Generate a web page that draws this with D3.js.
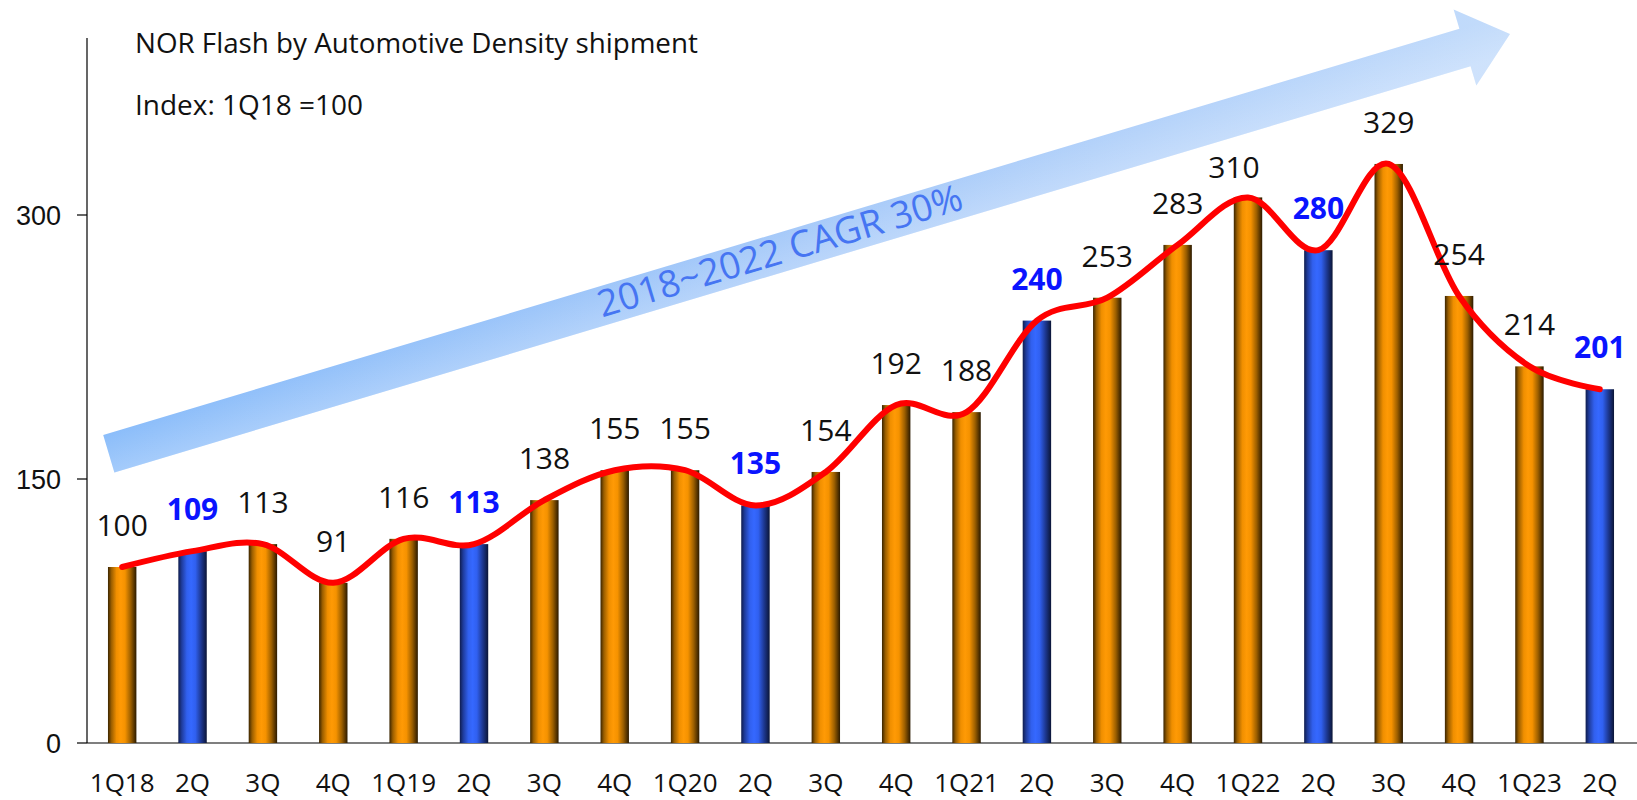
<!DOCTYPE html>
<html>
<head>
<meta charset="utf-8">
<script src="https://cdn.jsdelivr.net/npm/d3@7"></script>
<style>
  html, body { margin: 0; padding: 0; background: #fff; }
  svg { display: block; }
</style>
</head>
<body>
<svg id="chart" width="1637" height="800"></svg>
<script>
// ---- data ----
const categories = ["1Q18","2Q","3Q","4Q","1Q19","2Q","3Q","4Q","1Q20","2Q","3Q","4Q",
                    "1Q21","2Q","3Q","4Q","1Q22","2Q","3Q","4Q","1Q23","2Q"];
const values = [100,109,113,91,116,113,138,155,155,135,154,192,188,240,253,283,310,280,329,254,214,201];
const highlightCategory = "2Q";
const yTicks = [0,150,300];
const titleText = "NOR Flash by Automotive Density shipment";
const subtitleText = "Index: 1Q18 =100";
const arrowText = "2018~2022 CAGR 30%";

// ---- layout ----
const W = 1637, H = 800;
const plotLeft = 87, plotRight = 1635, baseY = 743, topY = 39;
const svg = d3.select("#chart");
const defs = svg.append("defs");

const x = d3.scaleBand().domain(d3.range(categories.length)).range([plotLeft, plotRight]).padding(0);
const y = d3.scaleLinear().domain([0, 400]).range([baseY, topY]);
const barW = x.bandwidth() * 0.404;
const cx = i => x(i) + x.bandwidth() / 2;
const isHi = i => categories[i] === highlightCategory;

// gradients for bars
function barGradient(id, stops) {
  const g = defs.append("linearGradient").attr("id", id)
    .attr("x1", 0).attr("y1", 0).attr("x2", 1).attr("y2", 0);
  stops.forEach(s => g.append("stop").attr("offset", s[0]).attr("stop-color", s[1]));
}
barGradient("gOrange", [[0,"#3a2400"],[0.12,"#9a5e00"],[0.3,"#f08f00"],[0.45,"#ff9a05"],[0.6,"#f59200"],[0.8,"#9c5f00"],[1,"#2b1a00"]]);
barGradient("gBlue", [[0,"#0f1c4d"],[0.12,"#1f3c9c"],[0.3,"#3160ee"],[0.45,"#3568ff"],[0.6,"#3060f0"],[0.8,"#1d3892"],[1,"#0b1536"]]);

// ---- arrow (annotation) ----
const tail = [108.8, 453.7], tip = [1510, 34];
const ang = Math.atan2(tip[1] - tail[1], tip[0] - tail[0]) * 180 / Math.PI;
const L = Math.hypot(tip[0] - tail[0], tip[1] - tail[1]);
const Lj = L - 47, hw = 19.5, hh = 39.6;
const ag = defs.append("linearGradient").attr("id", "gArrow")
  .attr("x1", 0).attr("y1", 0).attr("x2", 1).attr("y2", 0);
ag.append("stop").attr("offset", 0).attr("stop-color", "#8bbdfa");
ag.append("stop").attr("offset", 0.5).attr("stop-color", "#a7caf9");
ag.append("stop").attr("offset", 1).attr("stop-color", "#c2dbfb");
const ag2 = defs.append("linearGradient").attr("id", "gArrowV")
  .attr("x1", 0).attr("y1", 0).attr("x2", 0).attr("y2", 1);
ag2.append("stop").attr("offset", 0.25).attr("stop-color", "#ffffff").attr("stop-opacity", 0);
ag2.append("stop").attr("offset", 0.75).attr("stop-color", "#ffffff").attr("stop-opacity", 0.22);
const arrowG = svg.append("g").attr("transform", `translate(${tail[0]},${tail[1]}) rotate(${ang})`);
const arrowPts = [[0,-hw],[Lj,-hw],[Lj,-hh],[L,0],[Lj,hh],[Lj,hw],[0,hw]];
arrowG.append("polygon").attr("points", arrowPts.map(p => p.join(",")).join(" ")).attr("fill", "url(#gArrow)");
arrowG.append("polygon").attr("points", arrowPts.map(p => p.join(",")).join(" ")).attr("fill", "url(#gArrowV)");
arrowG.append("text").attr("x", 701).attr("y", 11)
  .attr("text-anchor", "middle")
  .style("font-family", "'Open Sans', sans-serif").style("font-size", "37px")
  .attr("fill", "#4675f2").text(arrowText);

// ---- axes ----
const axisG = svg.append("g").attr("stroke", "#000").attr("stroke-width", 1.2);
axisG.append("line").attr("x1", plotLeft).attr("x2", plotLeft).attr("y1", y(400) - 1).attr("y2", baseY);
axisG.append("line").attr("x1", plotLeft).attr("x2", W).attr("y1", baseY).attr("y2", baseY);
axisG.selectAll(".tk").data(yTicks).enter().append("line")
  .attr("x1", plotLeft - 10).attr("x2", plotLeft).attr("y1", d => y(d)).attr("y2", d => y(d));
svg.selectAll(".ytl").data(yTicks).enter().append("text")
  .attr("x", 61).attr("y", d => y(d) + 10).attr("text-anchor", "end")
  .style("font-family", "'Liberation Sans', Arial, sans-serif").style("font-size", "27px")
  .attr("fill", "#111").text(d => d);

// ---- bars ----
svg.selectAll(".bar").data(values).enter().append("rect")
  .attr("x", (d, i) => cx(i) - barW / 2).attr("width", barW)
  .attr("y", d => y(d)).attr("height", d => baseY - y(d))
  .attr("fill", (d, i) => isHi(i) ? "url(#gBlue)" : "url(#gOrange)");

// ---- smoothed line ----
const line = d3.line().x((d, i) => cx(i)).y(d => y(d)).curve(d3.curveCardinal.tension(0));
svg.append("path").datum(values).attr("d", line)
  .attr("fill", "none").attr("stroke", "#ff0000").attr("stroke-width", 6)
  .attr("stroke-linecap", "round").attr("stroke-linejoin", "round");

// ---- value labels ----
const labelNudge = {16: [-14, 12]};
svg.selectAll(".vl").data(values).enter().append("text")
  .attr("x", (d, i) => cx(i) + (labelNudge[i] ? labelNudge[i][0] : 0))
  .attr("y", (d, i) => y(d) - 31 + (labelNudge[i] ? labelNudge[i][1] : 0))
  .attr("text-anchor", "middle")
  .style("font-family", "'Open Sans', sans-serif").style("font-size", "30px")
  .style("font-weight", (d, i) => isHi(i) ? "700" : "400")
  .attr("fill", (d, i) => isHi(i) ? "#0a14ff" : "#111")
  .text(d => d);

// ---- category labels ----
svg.selectAll(".cl").data(categories).enter().append("text")
  .attr("x", (d, i) => cx(i)).attr("y", 792).attr("text-anchor", "middle")
  .style("font-family", "'Open Sans', sans-serif").style("font-size", "26px")
  .attr("fill", "#111").text(d => d);

// ---- titles ----
function fitText(txt, xPos, yPos, targetW) {
  const t = svg.append("text").attr("x", xPos).attr("y", yPos)
    .style("font-family", "'Open Sans', sans-serif").style("font-size", "28px")
    .attr("fill", "#111").text(txt);
  const w = t.node().getComputedTextLength();
  const fs = Math.min(28, 28 * targetW / w);
  t.style("font-size", fs + "px");
  return t;
}
fitText(titleText, 135, 53, 563);
fitText(subtitleText, 135, 115, 228);
</script>
</body>
</html>
